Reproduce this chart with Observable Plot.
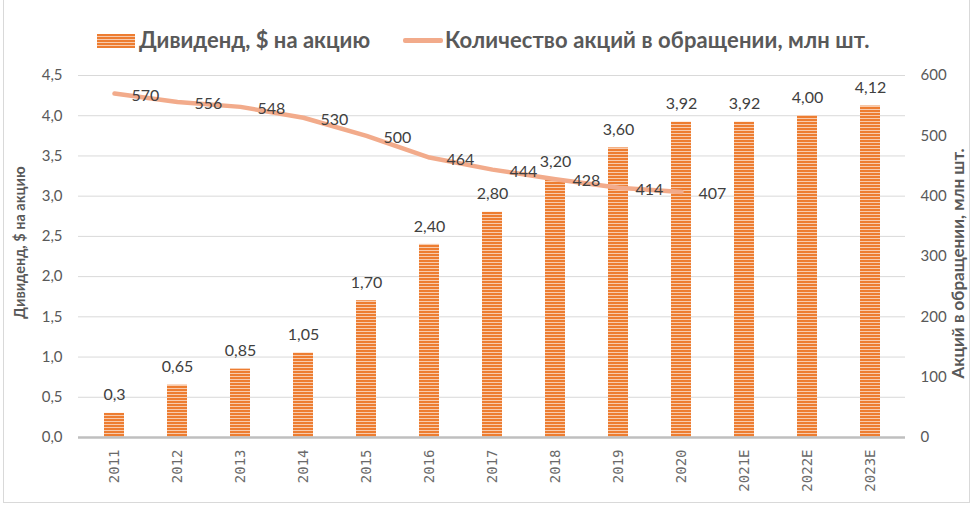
<!DOCTYPE html>
<html><head><meta charset="utf-8">
<script src="https://cdn.jsdelivr.net/npm/d3@7"></script>
<script src="https://cdn.jsdelivr.net/npm/@observablehq/plot@0.6"></script>
<style>
body{margin:0;background:#fff;}
#wrap{position:relative;width:974px;height:510px;overflow:hidden;font-family:Lato,"Open Sans",sans-serif;}
#frame{position:absolute;left:3px;top:-2px;width:967px;height:505px;border:1px solid #d9d9d9;box-sizing:border-box;pointer-events:none;}
#legend{position:relative;height:62px;}
.sw1{position:absolute;left:97px;top:34px;width:38px;height:14px;background:repeating-linear-gradient(to bottom,#ED7D31 0,#ED7D31 2px,#F8CBAD 2px,#F8CBAD 3px);}
.sw2{position:absolute;left:403px;top:38px;width:40px;height:4.5px;background:#F2AB8B;border-radius:2px;}
.lt{position:absolute;top:26px;font-weight:bold;font-size:22px;color:#595959;line-height:28px;white-space:nowrap;}
#chart{position:absolute;left:0;top:62px;}
</style></head>
<body><div id="wrap">
<div id="legend">
<div class="sw1"></div><div class="lt" style="left:139px">Дивиденд, $ на акцию</div>
<div class="sw2"></div><div class="lt" style="left:445px;letter-spacing:0.1px">Количество акций в обращении, млн шт.</div>
</div>
<div id="chart"></div>
<div id="frame"></div>
</div>
<script>
const years = ["2011","2012","2013","2014","2015","2016","2017","2018","2019","2020","2021E","2022E","2023E"];
const dividend = [0.3,0.65,0.85,1.05,1.70,2.40,2.80,3.20,3.60,3.92,3.92,4.00,4.12];
const dividendLabels = ["0,3","0,65","0,85","1,05","1,70","2,40","2,80","3,20","3,60","3,92","3,92","4,00","4,12"];
const shareYears = ["2011","2012","2013","2014","2015","2016","2017","2018","2019","2020"];
const shares = [570,556,548,530,500,464,444,428,414,407];
const leftTicks = [0,0.5,1,1.5,2,2.5,3,3.5,4,4.5];
const rightTicks = [0,100,200,300,400,500,600];
const leftTitle = "Дивиденд, $ на акцию";
const rightTitle = "Акций в обращении, млн шт.";

const divData = years.map((y,i)=>({year:y, v:dividend[i], label:dividendLabels[i]}));
const shareData = shareYears.map((y,i)=>({year:y, v:shares[i]}));
const k = 4.5/600;

const chart = Plot.plot({
  width: 974, height: 448,
  marginLeft: 78, marginRight: 69, marginTop: 13, marginBottom: 73,
  style: {fontFamily: "Lato, sans-serif", fontSize: "15px", color: "#595959", overflow: "visible"},
  x: {domain: years, paddingInner: 0.685, paddingOuter: 0.34, label: null},
  y: {domain: [0, 4.5], label: null},
  marks: [
    Plot.gridY(leftTicks, {stroke: "#d9d9d9", strokeOpacity: 1}),
    Plot.axisY(leftTicks, {tickSize: 0, tickPadding: 16, tickFormat: d => d.toFixed(1).replace(".", ","), fill: "#595959", label: null, fontSize: 15}),
    Plot.axisY(rightTicks.map(v => v*k), {anchor: "right", tickSize: 0, tickPadding: 15, tickFormat: d => String(Math.round(d/k)), fill: "#595959", label: null, fontSize: 15}),
    Plot.axisX({tickRotate: -90, tickSize: 0, tickPadding: 12, fontFamily: "DejaVu Sans Mono", fontSize: 14, fill: "#6a6a6a", label: null}),
    Plot.barY(divData, {x: "year", y: "v", fill: "url(#stripes)"}),
    Plot.ruleY([0], {stroke: "#bfbfbf", strokeWidth: 2.5}),
    Plot.line(shareData, {x: "year", y: d => d.v*k, stroke: "#F2AB8B", strokeWidth: 4.5, strokeLinejoin: "round", strokeLinecap: "round"}),
    Plot.text(divData, {x: "year", y: "v", text: "label", dy: -18, fill: "#404040", fontSize: 16}),
    Plot.text(shareData, {x: "year", y: d => d.v*k, text: d => String(d.v), dx: 17, dy: 2, textAnchor: "start", fill: "#404040", fontSize: 16}),
    Plot.text([leftTitle], {frameAnchor: "left", textAnchor: "middle", dx: -58, dy: -14, rotate: -90, fontWeight: "bold", fontSize: 14.5, fill: "#595959"}),
    Plot.text([rightTitle], {frameAnchor: "right", textAnchor: "middle", dx: 53, dy: 7, rotate: -90, fontWeight: "bold", fontSize: 17, fill: "#595959"})
  ]
});
d3.select(chart).insert("defs", ":first-child").html(
  '<pattern id="stripes" patternUnits="userSpaceOnUse" width="6" height="3">' +
  '<rect width="6" height="3" fill="#F8CBAD"/><rect width="6" height="2" fill="#ED7D31"/></pattern>');
document.getElementById("chart").appendChild(chart);
</script>
</body></html>
